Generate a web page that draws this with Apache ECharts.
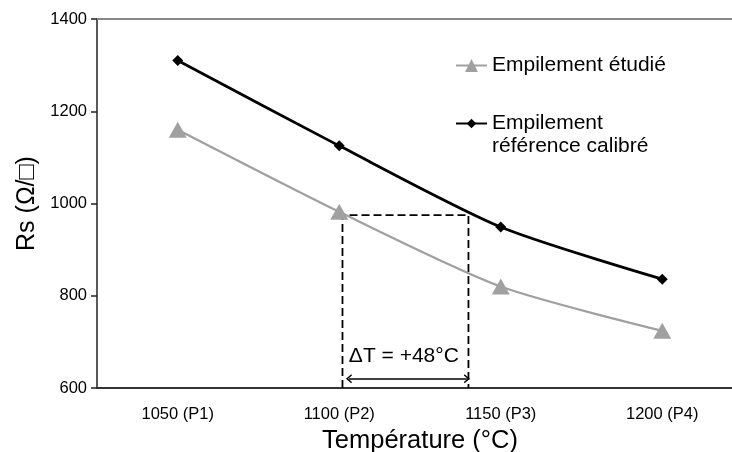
<!DOCTYPE html>
<html>
<head>
<meta charset="utf-8">
<script src="https://cdn.jsdelivr.net/npm/echarts@6/dist/echarts.min.js"></script>
<style>html,body{margin:0;padding:0;background:#fff}#c{width:732px;height:452px}</style>
</head>
<body>
<div id="c"></div>
<script>
// ---- data ----
const categories = ['1050 (P1)', '1100 (P2)', '1150 (P3)', '1200 (P4)'];
const etudie = [1160, 982, 820, 724];          // Empilement étudié
const reference = [1310, 1125, 949, 836];       // Empilement référence calibré
const yTicks = [600, 800, 1000, 1200, 1400];
// annotation (temperature units on a hidden value axis; category centres = 1050..1200)
const boxLeftT = 1101, boxRightT = 1140, boxTopRs = 975;
const arrowRs = 620, arrowLeftT = 1103, arrowRightT = 1139.5;
const deltaLabel = 'ΔT = +48°C';
const deltaLabelPos = [1120, 668];

const FONT = '"Liberation Sans", Arial, sans-serif';
const chart = echarts.init(document.getElementById('c'), null, {renderer: 'canvas'});
const chevron = 'path://M50,0 L100,88 L86,100 L50,36 L14,100 L0,88 Z';

chart.setOption({
  animation: false,
  backgroundColor: '#ffffff',
  textStyle: {fontFamily: FONT},
  grid: {left: 97, top: 19, width: 646, height: 369, containLabel: false, outerBoundsMode: 'none'},
  xAxis: [
    {
      type: 'category', data: categories, position: 'bottom',
      name: 'Température (°C)', nameLocation: 'middle', nameGap: 37,
      nameTextStyle: {fontFamily: FONT, fontSize: 25.5, color: '#000'},
      axisLine: {lineStyle: {color: '#333', width: 2}},
      axisTick: {show: false},
      axisLabel: {fontFamily: FONT, fontSize: 16.5, color: '#000', margin: 18},
      splitLine: {show: false}
    },
    {
      type: 'value', position: 'top', min: 1025, max: 1225,
      axisLine: {show: true, onZero: false, lineStyle: {color: '#888', width: 2}},
      axisTick: {show: false}, axisLabel: {show: false}, splitLine: {show: false}
    }
  ],
  yAxis: {
    type: 'value', min: yTicks[0], max: yTicks[yTicks.length - 1], interval: 200,
    name: 'Rs (Ω/□)', nameLocation: 'middle', nameGap: 57, nameRotate: 90,
    nameTextStyle: {fontFamily: FONT, fontSize: 25, color: '#000'},
    axisLine: {show: true, lineStyle: {color: '#222', width: 1.5}},
    axisTick: {show: true, length: 6, lineStyle: {color: '#222', width: 1.5}},
    axisLabel: {fontFamily: FONT, fontSize: 16.5, color: '#000', margin: 10,
                formatter: function (v) { return String(v); }},
    splitLine: {show: false}
  },
  legend: [
    {
      data: ['Empilement étudié'], orient: 'vertical', left: 455, top: 55, padding: 0,
      itemWidth: 31, itemHeight: 16, itemGap: 5,
      textStyle: {fontFamily: FONT, fontSize: 21, color: '#000'}
    },
    {
      data: ['Empilement référence calibré'], orient: 'vertical', left: 455, top: 89, padding: 0,
      itemWidth: 31, itemHeight: 12,
      formatter: function () { return ' \nEmpilement\nréférence calibré'; },
      textStyle: {fontFamily: FONT, fontSize: 21, lineHeight: 23, color: '#000'}
    }
  ],
  series: [
    {
      name: 'Empilement étudié', type: 'line', data: etudie, smooth: 0.25,
      symbol: 'triangle', symbolSize: [18, 16],
      lineStyle: {color: '#A0A0A0', width: 2.3},
      itemStyle: {color: '#A0A0A0'}, z: 3
    },
    {
      name: 'Empilement référence calibré', type: 'line', data: reference, smooth: 0.25,
      symbol: 'diamond', symbolSize: 11,
      lineStyle: {color: '#000', width: 2.75},
      itemStyle: {color: '#000'}, z: 4
    },
    {
      name: 'box', type: 'line', xAxisIndex: 1, silent: true, symbol: 'none',
      data: [[boxLeftT, yTicks[0]], [boxLeftT, boxTopRs], [boxRightT, boxTopRs], [boxRightT, yTicks[0]]],
      lineStyle: {color: '#000', width: 1.8, type: [8, 4]}, z: 2,
      markLine: {
        silent: true, animation: false,
        symbol: [chevron, chevron], symbolSize: [9, 6],
        label: {show: false},
        lineStyle: {color: '#000', width: 1.5, type: 'solid'},
        data: [[{coord: [arrowLeftT, arrowRs]}, {coord: [arrowRightT, arrowRs]}]]
      }
    },
    {
      name: 'delta', type: 'scatter', xAxisIndex: 1, silent: true,
      symbolSize: 0, data: [deltaLabelPos],
      itemStyle: {color: '#000', opacity: 1},
      label: {show: true, position: 'inside', formatter: deltaLabel,
              fontFamily: FONT, fontSize: 21, color: '#000', textBorderWidth: 0, opacity: 1}
    }
  ]
});
</script>
</body>
</html>
